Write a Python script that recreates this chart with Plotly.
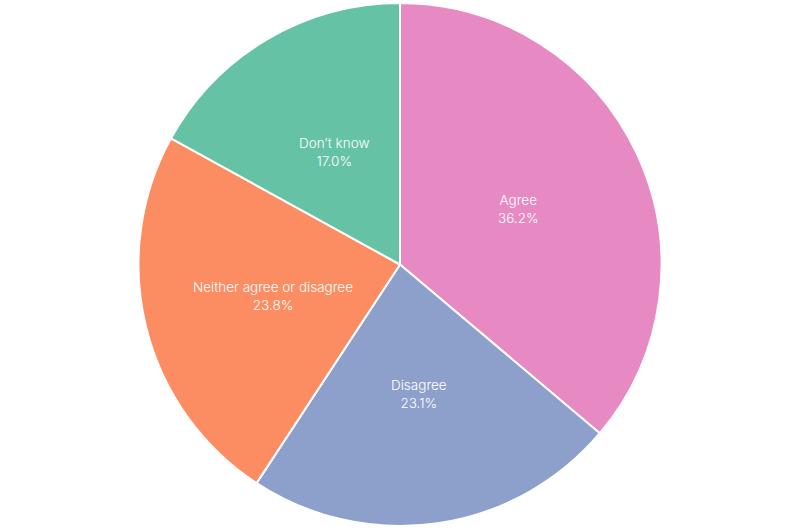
import numpy as np
import plotly.graph_objects as go

labels = ["Agree", "Disagree", "Neither agree or disagree", "Don\u2019t know"]
values = [36.2, 23.1, 23.8, 17.0]
colors = ["#e78ac3", "#8da0cb", "#fc8d62", "#66c2a5"]

W, H = 800, 530
mt, mb = 3, 4
plot_h = H - mt - mb

fig = go.Figure(
    go.Pie(
        labels=labels,
        values=values,
        sort=False,
        direction="clockwise",
        rotation=0,
        marker=dict(colors=colors, line=dict(color="white", width=2)),
        textinfo="none",
        hoverinfo="label+value",
        showlegend=False,
    )
)

# labels sit at half the radius, on the middle angle of each slice
total = sum(values)
radius = plot_h / 2
cum = 0
for lab, v in zip(labels, values):
    mid = (cum + v / 2) / total * 2 * np.pi
    cum += v
    dx = 0.5 * radius * np.sin(mid)
    dy = 0.5 * radius * np.cos(mid)
    fig.add_annotation(
        x=0.5 + dx / W,
        y=0.5 + dy / plot_h,
        xref="paper",
        yref="paper",
        xanchor="center",
        yanchor="middle",
        text=f"{lab}<br>{v:.1f}%",
        showarrow=False,
        font=dict(family="Inter", size=13.5, color="white", weight=300),
    )

fig.update_layout(
    width=W,
    height=H,
    margin=dict(l=0, r=0, t=mt, b=mb),
    paper_bgcolor="white",
    plot_bgcolor="white",
)

fig.write_html(
    "out.html",
    config={"displayModeBar": False},
    post_script="document.body.style.margin='0';",
)
